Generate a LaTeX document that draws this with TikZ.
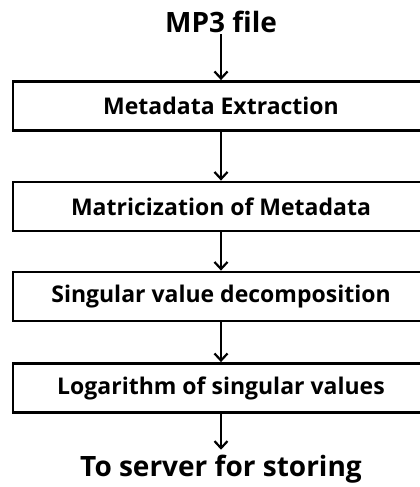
\documentclass[tikz,border=0pt]{standalone}
\usepackage{fontspec}
\setmainfont{Open Sans}
\usetikzlibrary{arrows.meta}
\usetikzlibrary{positioning}

\begin{document}
\begin{tikzpicture}[x=1pt, y=-1pt,
    stepbox/.style={draw, line width=2.8pt, minimum width=416pt, minimum height=49pt,
        inner sep=0pt, font=\fontsize{23}{26}\selectfont\bfseries},
    endtext/.style={inner sep=1pt, font=\fontsize{28}{32}\selectfont\bfseries},
    flow/.style={line width=2.2pt, -{Straight Barb[length=7pt,width=13pt,line width=2.2pt]}}]
            \useasboundingbox (0,0) rectangle (420,487);

            % Input
            \node[endtext] (mp3) at (221,22) {MP3 file};

            % Processing steps
            \node[stepbox] (extract) at (221,106) {Metadata Extraction};
            \node[stepbox] (matrix) at (221,206.5) {Matricization of Metadata};
            \node[stepbox] (svd) at (221,296.5) {Singular value decomposition};
            \node[stepbox] (logsv) at (221,388) {Logarithm of singular values};

            % Output
            \node[endtext] (server) at (221,469) {To server for storing};

            % Arrows
            \draw[flow] (mp3.south) -- (extract.north);
            \draw[flow] (extract.south) -- (matrix.north);
            \draw[flow] (matrix.south) -- (svd.north);
            \draw[flow] (svd.south) -- (logsv.north);
            \draw[flow, shorten >=4pt] (logsv.south) -- (server.north);

        \end{tikzpicture}
\end{document}
